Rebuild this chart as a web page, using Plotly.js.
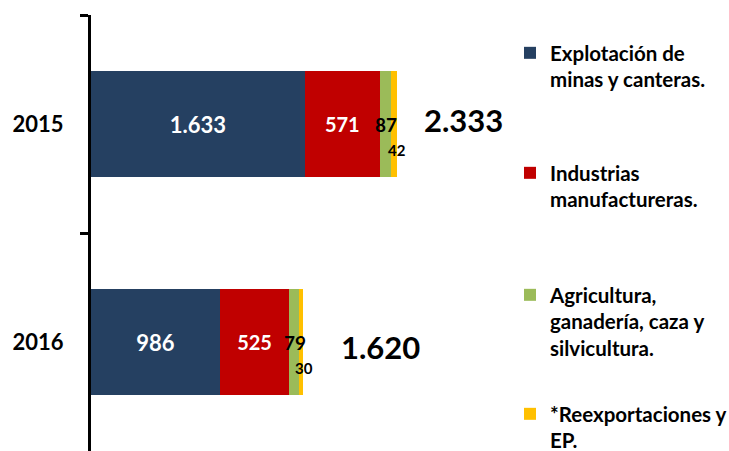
<!DOCTYPE html>
<html>
<head>
<meta charset="utf-8">
<script src="https://cdn.plot.ly/plotly-3.0.1.min.js"></script>
<style>html,body{margin:0;padding:0;background:#fff;}#chart{width:729px;height:451px;}</style>
</head>
<body>
<div id="chart"></div>
<script>
// ---- data ----
const years = ['2015', '2016'];
const mineria = [1633, 986];
const manufactura = [571, 525];
const agricultura = [87, 79];
const reexportaciones = [42, 30];
const totales = [2333, 1620];
const seriesNames = [
  'Explotación de<br>minas y canteras.',
  'Industrias<br>manufactureras.',
  'Agricultura,<br>ganadería, caza y<br>silvicultura.',
  '*Reexportaciones y<br>EP.'
];

// ---- styling ----
const FONT = 'Lato, "Open Sans", sans-serif';
const colors = ['#254061', '#C00000', '#9BBB59', '#FFC000'];
const fmt = v => String(v).replace(/\B(?=(\d{3})+(?!\d))/g, '.');
const totalShiftX = [25, 36];
const totalShiftY = [4, -5];

const seriesVals = [mineria, manufactura, agricultura, reexportaciones];
const labelFont = [
  {size: 22, color: '#ffffff'},
  {size: 20, color: '#ffffff'},
  null,
  null
];
const legendTops = [33, 153, 275, 394];

const traces = seriesVals.map((vals, i) => {
  const t = {
    type: 'bar', orientation: 'h',
    y: years, x: vals,
    name: seriesNames[i],
    marker: {color: colors[i], line: {width: 0}},
    legend: i === 0 ? 'legend' : 'legend' + (i + 1),
    hoverinfo: 'x+name'
  };
  if (labelFont[i]) {
    t.text = vals.map(fmt);
    t.textposition = 'inside';
    t.insidetextanchor = 'middle';
    t.constraintext = 'none';
    t.textangle = 0;
    t.textfont = {family: FONT, weight: 700, size: labelFont[i].size, color: labelFont[i].color};
  } else {
    t.textposition = 'none';
  }
  return t;
});

const annotations = [];
years.forEach((yr, k) => {
  const c2 = mineria[k] + manufactura[k];
  const c3 = c2 + agricultura[k];
  annotations.push({
    x: c2 + agricultura[k] / 2, y: k, xref: 'x', yref: 'y',
    text: fmt(agricultura[k]), showarrow: false,
    xanchor: 'center', yanchor: 'middle', xshift: 1,
    font: {family: FONT, weight: 700, size: 19, color: '#000'}
  });
  annotations.push({
    x: c3 + reexportaciones[k] / 2, y: k, xref: 'x', yref: 'y',
    text: fmt(reexportaciones[k]), showarrow: false,
    xanchor: 'center', yanchor: 'middle', xshift: 3, yshift: -26,
    font: {family: FONT, weight: 700, size: 15, color: '#000'}
  });
  annotations.push({
    x: totales[k], y: k, xref: 'x', yref: 'y',
    text: fmt(totales[k]), showarrow: false,
    xanchor: 'left', yanchor: 'middle', xshift: totalShiftX[k], yshift: totalShiftY[k],
    font: {family: FONT, weight: 700, size: 31, color: '#000'}
  });
});

const layout = {
  width: 729, height: 451,
  margin: {l: 91, r: 209, t: 15, b: 0, pad: 0, autoexpand: false},
  paper_bgcolor: '#ffffff', plot_bgcolor: '#ffffff',
  barmode: 'stack',
  bargap: 0.514,
  font: {family: FONT, color: '#000'},
  xaxis: {
    range: [0, 3275], showgrid: false, zeroline: false,
    showticklabels: false, showline: false, ticks: ''
  },
  yaxis: {
    type: 'category', categoryorder: 'array', categoryarray: years,
    range: [1.5, -0.5], autorange: false,
    showline: true, linecolor: '#000', linewidth: 3,
    ticks: 'outside', tickson: 'boundaries', ticklen: 8, tickwidth: 3, tickcolor: '#000',
    showgrid: false, zeroline: false,
    ticklabelstandoff: 20,
    tickfont: {family: FONT, weight: 700, size: 22, color: '#000'}
  },
  annotations: annotations,
  showlegend: true
};
legendTops.forEach((top, i) => {
  layout[i === 0 ? 'legend' : 'legend' + (i + 1)] = {
    xref: 'container', yref: 'container',
    x: 510 / 729, y: 1 - top / 451, xanchor: 'left', yanchor: 'top',
    valign: 'top', bgcolor: 'rgba(0,0,0,0)', borderwidth: 0,
    font: {family: FONT, weight: 700, size: 20.5, color: '#000'}
  };
});

Plotly.newPlot('chart', traces, layout, {displayModeBar: false, staticPlot: true});
</script>
</body>
</html>
